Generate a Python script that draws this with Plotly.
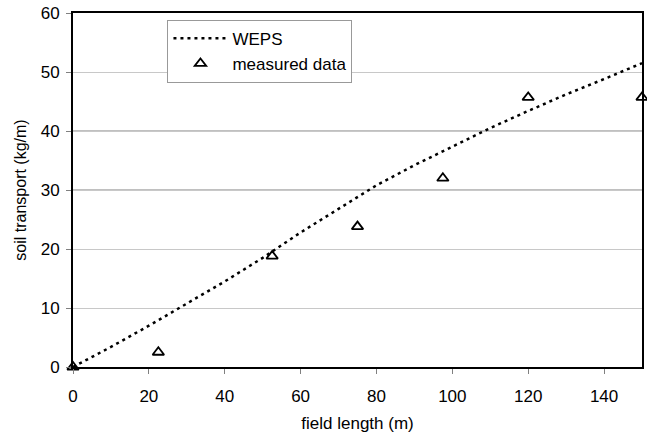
import plotly.graph_objects as go

weps_x = [0, 10, 20, 30, 40, 50, 60, 70, 80, 90, 100, 110, 120, 130, 140, 150]
weps_y = [0, 3.4, 7.0, 10.8, 14.5, 18.5, 22.8, 26.8, 30.8, 34.2, 37.3, 40.5, 43.4, 46.2, 48.8, 51.5]
meas_x = [0, 22.5, 52.5, 75, 97.5, 120, 150]
meas_y = [0, 2.5, 18.8, 23.8, 32.0, 45.7, 45.7]
x_ticks = [0, 20, 40, 60, 80, 100, 120, 140]
y_ticks = [0, 10, 20, 30, 40, 50, 60]
dark_grid = [30, 40]

font = "Liberation Sans, Arial, sans-serif"
fig = go.Figure()
fig.add_trace(go.Scatter(x=weps_x, y=weps_y, mode="lines", name="WEPS",
                         line=dict(color="black", width=2.5, dash="3px,4px")))
fig.add_trace(go.Scatter(x=meas_x, y=meas_y, mode="markers", name="measured data",
                         marker=dict(symbol="triangle-up-open", size=10, color="black",
                                     line=dict(width=1.8, color="black")),
                         cliponaxis=False))
for g in dark_grid:
    fig.add_shape(type="line", xref="paper", x0=0, x1=1, yref="y", y0=g, y1=g,
                  line=dict(color="#808080", width=1), layer="below")

fig.update_layout(
    width=647, height=437,
    margin=dict(l=73, r=5, t=13, b=70, autoexpand=False),
    plot_bgcolor="white", paper_bgcolor="white",
    font=dict(family=font, size=16, color="black"),
    showlegend=True,
    legend=dict(x=0.166, y=0.981, xanchor="left", yanchor="top",
                bordercolor="#999999", borderwidth=1, bgcolor="white",
                font=dict(size=17), tracegroupgap=0, itemwidth=54),
    xaxis=dict(range=[0, 150], tickvals=x_ticks, showgrid=False, zeroline=False,
               showline=True, linecolor="black", linewidth=2, mirror=True,
               ticks="outside", ticklen=5, tickcolor="#808080",
               ticklabelstandoff=8, tickfont=dict(size=17),
               title=dict(text="field length (m)", font=dict(size=17), standoff=12)),
    yaxis=dict(range=[0, 60], tickvals=y_ticks, showgrid=True, gridcolor="#c8c8c8",
               gridwidth=1, zeroline=False,
               showline=True, linecolor="black", linewidth=2, mirror=True,
               ticks="outside", ticklen=5, tickcolor="#808080",
               ticklabelstandoff=3, tickfont=dict(size=17),
               title=dict(text="soil transport (kg/m)", font=dict(size=16), standoff=10)),
)
fig.write_html("out.html", config={"displayModeBar": False},
               post_script="document.body.style.margin='0';document.body.style.overflow='hidden';")
